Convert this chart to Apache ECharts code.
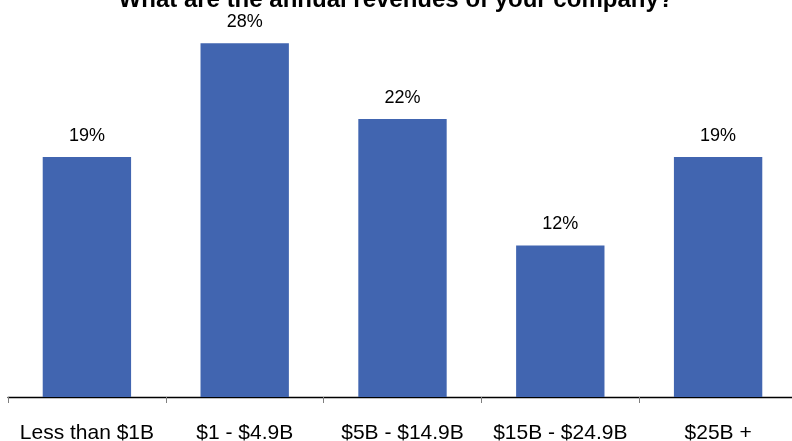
<!DOCTYPE html>
<html>
<head>
<meta charset="utf-8">
<script src="https://cdn.jsdelivr.net/npm/echarts@6/dist/echarts.min.js"></script>
<style>
  html, body { margin: 0; padding: 0; background: #fff; }
  #chart { width: 792px; height: 441px; }
</style>
</head>
<body>
<div id="chart"></div>
<script>
// Survey: annual revenue bands of respondents' companies
const titleText = 'What are the annual revenues of your company?';
const categories = ['Less than $1B', '$1 - $4.9B', '$5B - $14.9B', '$15B - $24.9B', '$25B +'];
const shares = [19, 28, 22, 12, 19];

const chart = echarts.init(document.getElementById('chart'));
chart.setOption({
  animation: false,
  backgroundColor: '#ffffff',
  title: {
    text: titleText,
    left: 'center',
    top: -17,
    textStyle: { fontFamily: 'Liberation Sans, Arial', fontWeight: 'bold', fontSize: 24, color: '#000' }
  },
  grid: { left: 8, width: 789, top: 18, bottom: 44, containLabel: false, outerBoundsMode: 'none' },
  xAxis: {
    type: 'category',
    data: categories,
    axisLine: { show: true, lineStyle: { color: '#000', width: 1.3 } },
    axisTick: { show: true, length: 6, lineStyle: { color: '#7f7f7f' } },
    axisLabel: { interval: 0, fontFamily: 'Liberation Sans, Arial', fontSize: 21, color: '#000', margin: 26 }
  },
  yAxis: {
    type: 'value',
    min: 0,
    max: 30,
    show: false,
    splitLine: { show: false }
  },
  series: [{
    type: 'bar',
    data: shares,
    barWidth: '56%',
    itemStyle: { color: '#4165B0' },
    label: {
      show: true,
      position: 'top',
      distance: 12,
      formatter: p => p.value + '%',
      fontFamily: 'Liberation Sans, Arial',
      fontSize: 18,
      color: '#000'
    }
  }]
});
</script>
</body>
</html>
